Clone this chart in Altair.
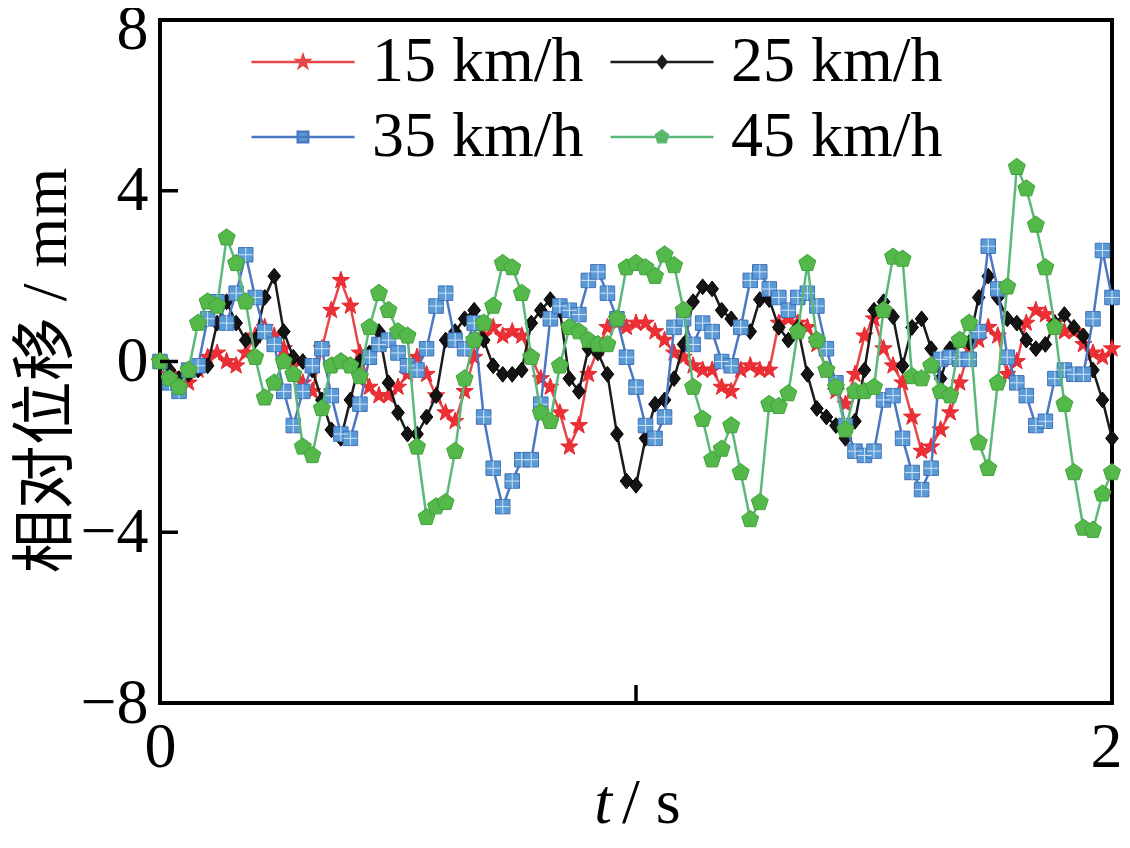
import altair as alt
import pandas as pd

# ---------------- data ----------------
SERIES = ["15 km/h", "25 km/h", "35 km/h", "45 km/h"]
T = [round(i * 0.02, 2) for i in range(101)]

V15 = [0.0, -0.3, -0.65, -0.5, -0.2, 0.1, 0.2, 0.0, -0.1, 0.2,
       0.6, 0.8, 0.6, 0.3, -0.1, -0.5, -0.7, 0.3, 1.2, 1.9,
       1.3, 0.2, -0.6, -0.8, -0.8, -0.6, -0.3, 0.1, -0.3, -0.8,
       -1.2, -1.4, -0.7, 0.1, 0.6, 0.8, 0.6, 0.7, 0.6, 0.1,
       -0.4, -0.6, -1.2, -2.0, -1.5, -0.3, 0.3, 0.8, 0.9, 0.8,
       0.9, 0.9, 0.7, 0.5, 0.2, 0.1, -0.1, -0.2, -0.2, -0.6,
       -0.7, -0.2, -0.1, -0.2, -0.2, 0.9, 1.0, 0.9, 0.8, 0.4,
       -0.2, -0.7, -1.0, -0.3, 0.6, 1.0, 0.3, -0.1, -0.5, -1.3,
       -2.1, -2.0, -1.6, -1.2, -0.5, 0.3, 0.5, 0.8, 0.6, -0.3,
       0.0, 0.9, 1.2, 1.1, 0.9, 0.7, 0.7, 0.4, 0.2, 0.1,
       0.3]

V25 = [0.0, -0.2, -0.4, -0.3, -0.2, -0.1, 0.9, 1.4, 0.9, 0.5,
       0.5, 1.5, 2.0, 0.7, 0.1, 0.0, -0.2, -0.9, -1.6, -1.8,
       -0.9, 0.0, 0.2, 0.7, -0.5, -1.2, -1.7, -1.7, -1.3, -0.8,
       0.5, 0.7, 1.0, 1.2, 0.5, -0.1, -0.3, -0.3, -0.2, 0.9,
       1.2, 1.45, 1.2, -0.4, -0.7, 0.3, 0.2, -0.3, -1.7, -2.8,
       -2.9, -1.8, -1.0, -0.9, -0.4, 0.4, 1.4, 1.75, 1.7, 1.2,
       1.0, 0.8, 0.7, 1.45, 1.45, 0.8, 0.5, 0.8, -0.3, -1.1,
       -1.3, -1.5, -1.8, -1.4, -0.2, 1.2, 1.4, 1.05, -0.1, 0.8,
       1.0, 0.3, -0.4, 0.3, 0.5, 0.45, 1.5, 2.0, 1.5, 1.0,
       0.9, 0.5, 0.3, 0.4, 0.9, 1.1, 0.8, 0.6, -0.2, -0.9,
       -1.8]

V35 = [0.0, -0.5, -0.7, -0.2, -0.1, 1.0, 1.4, 0.9, 1.6, 2.5,
       1.5, 0.7, 0.4, -0.7, -1.5, -0.7, -0.1, 0.3, -0.8, -1.7,
       -1.8, -1.0, 0.1, 0.4, 0.5, 0.2, -0.1, -0.2, 0.3, 1.3,
       1.6, 0.5, 0.3, 0.9, -1.3, -2.5, -3.4, -2.8, -2.3, -2.3,
       -1.0, 1.0, 1.3, 1.2, 1.1, 1.9, 2.1, 1.6, 1.0, 0.1,
       -0.6, -1.5, -1.8, -1.3, 0.8, 1.0, 0.4, 0.9, 0.7, 0.0,
       -0.1, 0.8, 1.9, 2.1, 1.7, 1.5, 1.2, 1.5, 1.6, 1.3,
       0.3, -0.5, -1.5, -2.1, -2.2, -2.1, -0.9, -0.8, -1.8, -2.6,
       -3.0, -2.5, 0.05, 0.1, 0.05, 0.05, 0.7, 2.7, 1.7, 0.1,
       -0.5, -0.8, -1.5, -1.4, -0.4, -0.2, -0.3, -0.3, 1.0, 2.6,
       1.5]

V45 = [0.0, -0.4, -0.6, -0.2, 0.9, 1.4, 1.3, 2.9, 2.3, 1.4,
       0.1, -0.85, -0.5, 0.0, -0.3, -2.0, -2.2, -1.1, -0.1, 0.0,
       -0.1, -0.35, 0.8, 1.6, 1.2, 0.7, 0.6, -2.0, -3.65, -3.4,
       -3.3, -2.1, -0.4, 0.5, 0.9, 1.3, 2.3, 2.2, 1.6, 0.1,
       -1.2, -1.4, -0.1, 0.8, 0.7, 0.5, 0.4, 0.4, 1.0, 2.2,
       2.3, 2.2, 2.0, 2.5, 2.25, 1.2, -0.6, -1.35, -2.3, -2.05,
       -1.5, -2.6, -3.7, -3.3, -1.0, -1.05, -0.75, 0.7, 2.3, 0.5,
       -0.2, -0.6, -1.6, -0.7, -0.7, -0.6, 1.2, 2.45, 2.4, -0.35,
       -0.4, -0.1, -0.7, -0.8, 0.5, 0.9, -1.9, -2.5, -0.5, 1.75,
       4.55, 4.05, 3.2, 2.2, 0.8, -1.0, -2.6, -3.9, -3.95, -3.1,
       -2.6]

VALUES = [V15, V25, V35, V45]
X_TICKS = [0, 1, 2]
Y_TICKS = [-8, -4, 0, 4, 8]
INNER_X_TICKS = [1]
INNER_Y_TICKS = [-4, 0, 4]

# ---------------- styles ----------------
LINE_COLORS = ["#e8474a", "#1c1c1c", "#4a78c2", "#5cb87a"]
FILL_COLORS = ["#ee3036", "#141414", "#5b9bd5", "#55b84a"]
EDGE_COLORS = ["#e02a30", "#000000", "#3f6fb8", "#3fa33a"]

STAR = [(0, -1), (0.235, -0.324), (0.951, -0.309), (0.380, 0.124), (0.588, 0.809),
        (0, 0.4), (-0.588, 0.809), (-0.380, 0.124), (-0.951, -0.309), (-0.235, -0.324)]
DIAMOND = [(0, -1), (0.8, 0), (0, 1), (-0.8, 0)]
SQUARE = [(-1, -1), (1, -1), (1, 1), (-1, 1)]
PENTAGON = [(0, -1), (0.951, -0.309), (0.588, 0.809), (-0.588, 0.809), (-0.951, -0.309)]


def poly(pts, s=1.0):
    return "M" + "L".join(f"{x * s:.3f},{y * s:.3f}" for x, y in pts) + "Z"


MARKERS = [poly(STAR), poly(DIAMOND), poly(SQUARE), poly(PENTAGON)]
MARKER_SIZES = [330, 250, 210, 320]
LEG_SCALES = [0.85, 0.75, 0.7, 0.85]
LEG_HALF = 6.87  # half length of the legend line, in symbol units
LEGEND_PATHS = [f"M{-LEG_HALF},0H{LEG_HALF}" + poly(p, s)
                for p, s in zip([STAR, DIAMOND, SQUARE, PENTAGON], LEG_SCALES)]
GRID_PATH = "M0,-1V1M-1,0H1"

FONT = "Liberation Serif"
W, H = 952, 683

xscale = alt.Scale(domain=[0, 2], nice=False, zero=False)
yscale = alt.Scale(domain=[-8, 8], nice=False, zero=False)

xaxis = alt.Axis(values=X_TICKS, title=None, labelFlush=False, labelOverlap=False,
                 labelPadding=12, format="d",
                 labelOffset={"condition": {"test": "datum.value == 2", "value": -6}, "value": 0})
yaxis = alt.Axis(values=Y_TICKS, title="相对位移 / mm", labelFlush=False, labelOverlap=False,
                 labelPadding=12, format="d", titleFont=FONT + ", Noto Sans CJK SC",
                 titleFontSize=64, titleFontWeight="normal", titleColor="black",
                 titleX=-114, titleY=350, titleAngle=-90, titleAlign="center",
                 titleBaseline="middle",
                 labelOffset={"condition": {"test": "datum.value == 8", "value": 9}, "value": 0})

layers = []
for i, name in enumerate(SERIES):
    df = pd.DataFrame({"t": T, "v": VALUES[i], "series": name})
    base = alt.Chart(df)
    enc = dict(x=alt.X("t:Q", scale=xscale, axis=xaxis),
               y=alt.Y("v:Q", scale=yscale, axis=yaxis))
    layers.append(base.mark_line(color=LINE_COLORS[i], strokeWidth=2.5).encode(**enc))
    layers.append(base.mark_point(shape=MARKERS[i], size=MARKER_SIZES[i], filled=True,
                                  fill=FILL_COLORS[i], stroke=EDGE_COLORS[i],
                                  strokeWidth=1, opacity=1).encode(**enc))
    if i == 2:
        layers.append(base.mark_point(shape=GRID_PATH, size=MARKER_SIZES[i], filled=False,
                                      stroke="#cfe2f7", strokeWidth=1, opacity=1).encode(**enc))

# inward ticks
layers.append(alt.Chart(pd.DataFrame({"xt": INNER_X_TICKS})).mark_rule(
    color="black", strokeWidth=3.5).encode(
    x=alt.X("xt:Q", scale=xscale, axis=xaxis), y=alt.value(H), y2=alt.value(H - 18)))
layers.append(alt.Chart(pd.DataFrame({"yt": INNER_Y_TICKS})).mark_rule(
    color="black", strokeWidth=3.5).encode(
    y=alt.Y("yt:Q", scale=yscale, axis=yaxis), x=alt.value(0), x2=alt.value(18)))

# legend (library legend, driven by an invisible layer)
leg = alt.Legend(orient="none", legendX=111, legendY=10, columns=2, direction="horizontal",
                 title=None, labelFont=FONT, labelFontSize=64, labelColor="black",
                 labelOffset=37, symbolStrokeWidth=2.5, symbolOpacity=1, symbolSize=225,
                 columnPadding=21, rowPadding=11, padding=0, labelLimit=400)
legend_df = pd.DataFrame({"series": SERIES})
layers.append(alt.Chart(legend_df).mark_point(filled=True, opacity=0, size=225).encode(
    fill=alt.Fill("series:N", scale=alt.Scale(domain=SERIES, range=FILL_COLORS), legend=leg),
    stroke=alt.Stroke("series:N", scale=alt.Scale(domain=SERIES, range=LINE_COLORS), legend=leg),
    shape=alt.Shape("series:N", scale=alt.Scale(domain=SERIES, range=LEGEND_PATHS), legend=leg),
))

# x-axis title: italic t, upright "/ s"
one = pd.DataFrame({"a": [0]})
layers.append(alt.Chart(one).mark_text(text="t", font=FONT, fontSize=64, fontStyle="italic",
                                       align="right", baseline="alphabetic", color="black").encode(
    x=alt.value(452), y=alt.value(803)))
layers.append(alt.Chart(one).mark_text(text="/ s", font=FONT, fontSize=64,
                                       align="left", baseline="alphabetic", color="black").encode(
    x=alt.value(462), y=alt.value(803)))

chart = alt.layer(*layers).properties(
    width=W, height=H,
    autosize=alt.AutoSizeParams(type="none"),
    padding={"left": 152, "top": 12, "right": 10, "bottom": 134},
).configure_view(stroke="black", strokeWidth=4).configure_axis(
    grid=False, domain=False, ticks=False, labelFont=FONT, labelFontSize=64,
    labelColor="black")

chart.save("out.html", embed_options={"renderer": "svg", "actions": False})
